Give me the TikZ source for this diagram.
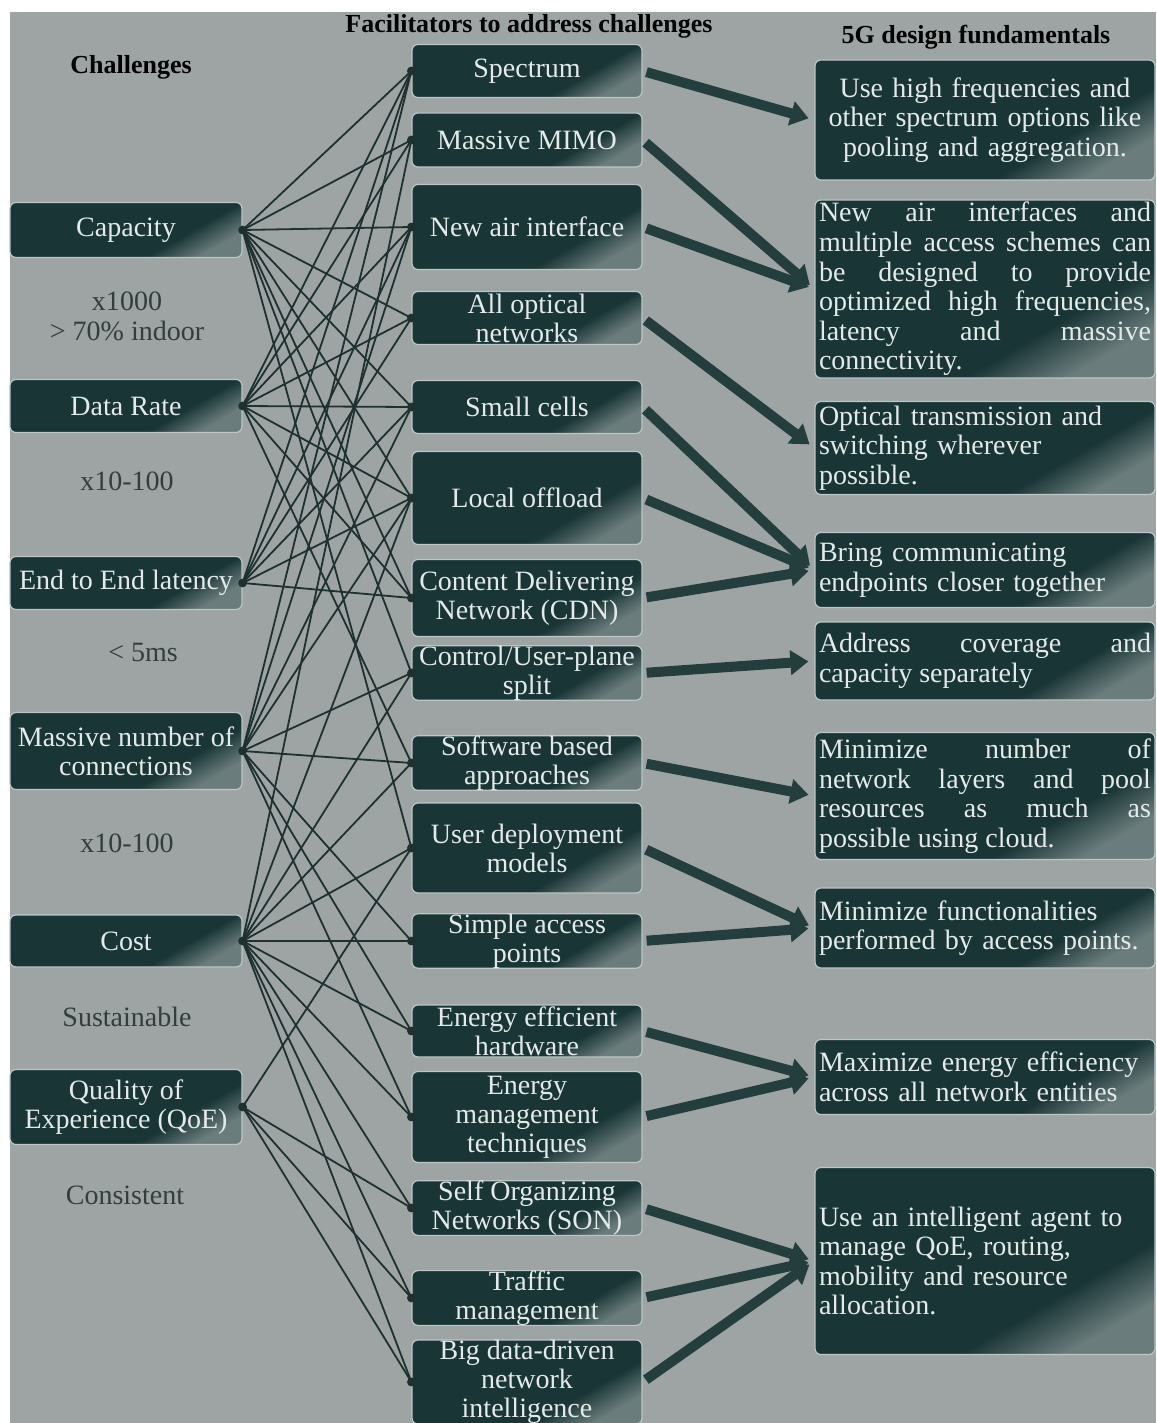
\documentclass[tikz,border=0pt]{standalone}
\usepackage{fontspec}
\setmainfont{Liberation Serif}
\usetikzlibrary{arrows.meta}

\definecolor{panel}{HTML}{9EA4A4}
\definecolor{tealdk}{HTML}{1A3536}
\definecolor{tealhi}{HTML}{6A7C7C}
\definecolor{boxrim}{HTML}{BCC6C6}
\definecolor{boxtxt}{HTML}{E4EAEA}
\definecolor{wire}{HTML}{1E3030}
\definecolor{note}{HTML}{333D3D}
\definecolor{fatarrow}{HTML}{243E3E}
\pgfdeclareverticalshading{tealbox}{100bp}{color(0bp)=(tealhi); color(25bp)=(tealhi);
  color(36bp)=(tealdk); color(100bp)=(tealdk)}

\begin{document}
\begin{tikzpicture}[x=0.5pt,y=-0.5pt,
  box/.style={rectangle,rounded corners=3pt,draw=boxrim,line width=0.6pt,
              shading=tealbox,shading angle=30,text=boxtxt,inner xsep=2pt,
              inner ysep=0pt,font=\fontsize{14}{14.5}\selectfont},
  challenge/.style={box,minimum width=116pt,align=center},
  facil/.style={box,minimum width=115pt,align=center},
  design/.style={box,minimum width=170pt,text width=166pt,align=justify,
                 font=\fontsize{14}{14.8}\selectfont},
  head/.style={font=\fontsize{13}{15}\selectfont\bfseries},
  target/.style={text=note,font=\fontsize{14}{15}\selectfont,align=center},
  link/.style={draw=wire,line width=0.9pt},
  fat/.style={draw=fatarrow,line width=5pt,-{Triangle[length=9pt,width=12pt]},
              shorten <=2pt,shorten >=3pt}]
  \useasboundingbox (0,0) rectangle (1156,1423);
  \fill[white] (0,0) rectangle (1156,1423);
  \fill[panel] (10,12) rectangle (1156,1423);

  % column headings
  \node[head] (hchal) at (131,67) {Challenges};
  \node[head] (hfac) at (529,26) {Facilitators to address challenges};
  \node[head] (hdes) at (976,37) {5G design fundamentals};

  % challenges and their targets
  \node[challenge,minimum height=27.5pt] (cap) at (126,230) {Capacity};
  \node[challenge,minimum height=26.5pt] (rate) at (126,406) {Data Rate};
  \node[challenge,minimum height=26.5pt] (lat) at (126,583) {End to End latency};
  \node[challenge,minimum height=38.5pt] (conn) at (126,751) {Massive number of\\connections};
  \node[challenge,minimum height=26pt] (cost) at (126,941) {Cost};
  \node[challenge,minimum height=37.5pt] (qoe) at (126,1107) {Quality of\\Experience (QoE)};
  \node[target] (tcap) at (127,316) {x1000\\> 70\% indoor};
  \node[target] (trate) at (127,481) {x10-100};
  \node[target] (tlat) at (143,652) {< 5ms};
  \node[target] (tconn) at (127,843) {x10-100};
  \node[target] (tcost) at (127,1017) {Sustainable};
  \node[target] (tqoe) at (125,1195) {Consistent};

  % facilitators
  \node[facil,minimum height=26.5pt] (spec) at (527,71) {Spectrum};
  \node[facil,minimum height=27pt] (mimo) at (527,140) {Massive MIMO};
  \node[facil,minimum height=42.5pt] (air) at (527,227) {New air interface};
  \node[facil,minimum height=26.5pt] (optic) at (527,318) {All optical\\networks};
  \node[facil,minimum height=26.5pt] (small) at (527,407) {Small cells};
  \node[facil,minimum height=46.5pt] (offload) at (527,498) {Local offload};
  \node[facil,minimum height=38.5pt] (cdn) at (527,598) {Content Delivering\\Network (CDN)};
  \node[facil,minimum height=26.5pt] (cusplit) at (527,673) {Control/User-plane\\split};
  \node[facil,minimum height=26.5pt] (soft) at (527,763) {Software based\\approaches};
  \node[facil,minimum height=45pt] (deploy) at (527,848) {User deployment\\models};
  \node[facil,minimum height=26pt] (simple) at (527,941) {Simple access\\points};
  \node[facil,minimum height=26pt] (eehw) at (527,1031) {Energy efficient\\hardware};
  \node[facil,minimum height=45.5pt] (emgmt) at (527,1117) {Energy\\management\\techniques};
  \node[facil,minimum height=26.5pt] (son) at (527,1208) {Self Organizing\\Networks (SON)};
  \node[facil,minimum height=26.5pt] (traffic) at (527,1298) {Traffic\\management};
  \node[facil,minimum height=42pt] (bigdata) at (527,1382) {Big data-driven\\network\\intelligence};

  % design fundamentals
  \node[design,align=center,minimum height=60pt] (fhigh) at (985,120)
    {Use high frequencies and\\other spectrum options like\\pooling and aggregation.};
  \node[design,minimum height=89pt] (fair) at (985,289)
    {New air interfaces and\linebreak multiple access schemes can\linebreak be designed to provide\linebreak
     optimized high frequencies,\linebreak latency and massive\linebreak connectivity.};
  \node[design,align=left,minimum height=46.5pt] (foptic) at (985,448)
    {Optical transmission and\\switching wherever\\possible.};
  \node[design,align=left,minimum height=37.5pt] (fclose) at (985,570)
    {Bring communicating\\endpoints closer together};
  \node[design,minimum height=39pt] (fcover) at (985,661)
    {Address coverage and\linebreak capacity separately};
  \node[design,minimum height=63.5pt] (flayer) at (985,796)
    {Minimize number of\linebreak network layers and pool\linebreak resources as much as\linebreak possible using cloud.};
  \node[design,align=left,minimum height=40pt] (ffunc) at (985,928)
    {Minimize functionalities\\performed by access points.};
  \node[design,align=left,minimum height=37.5pt] (fenergy) at (985,1077)
    {Maximize energy efficiency\\across all network entities};
  \node[design,align=left,minimum height=93.5pt] (fagent) at (985,1261)
    {Use an intelligent agent to\\manage QoE, routing,\\mobility and resource\\allocation.};

  % challenge -> facilitator links
  \foreach \a/\b in {cap/spec,cap/mimo,cap/air,cap/optic,cap/small,cap/offload,cap/cdn,
      cap/cusplit,cap/deploy,
      rate/spec,rate/mimo,rate/air,rate/optic,rate/small,rate/offload,rate/cdn,rate/soft,
      lat/spec,lat/air,lat/optic,lat/small,lat/offload,lat/cdn,
      conn/spec,conn/air,conn/small,conn/offload,conn/cusplit,conn/soft,conn/simple,
      conn/eehw,conn/emgmt,
      cost/mimo,cost/offload,cost/cusplit,cost/soft,cost/deploy,cost/simple,cost/eehw,
      cost/emgmt,cost/son,cost/traffic,cost/bigdata,
      qoe/deploy,qoe/son,qoe/traffic,qoe/bigdata}
    \draw[link] (\a.east) -- (\b.west);
  \foreach \n in {cap,rate,lat,conn,cost,qoe}
    \fill[wire] (\n.east) circle (2.2pt);
  \foreach \n in {spec,mimo,air,optic,small,offload,cdn,cusplit,soft,deploy,simple,
      eehw,emgmt,son,traffic,bigdata}
    \fill[wire] (\n.west) circle (2.2pt);

  % facilitator -> fundamental arrows
  \foreach \a/\b in {spec/fhigh,mimo/fair,air/fair,optic/foptic,small/fclose,
      offload/fclose,cdn/fclose,cusplit/fcover,soft/flayer,deploy/ffunc,simple/ffunc,
      eehw/fenergy,emgmt/fenergy,son/fagent,traffic/fagent,bigdata/fagent}
    \draw[fat] (\a.east) -- (\b.west);
\end{tikzpicture}
\end{document}
